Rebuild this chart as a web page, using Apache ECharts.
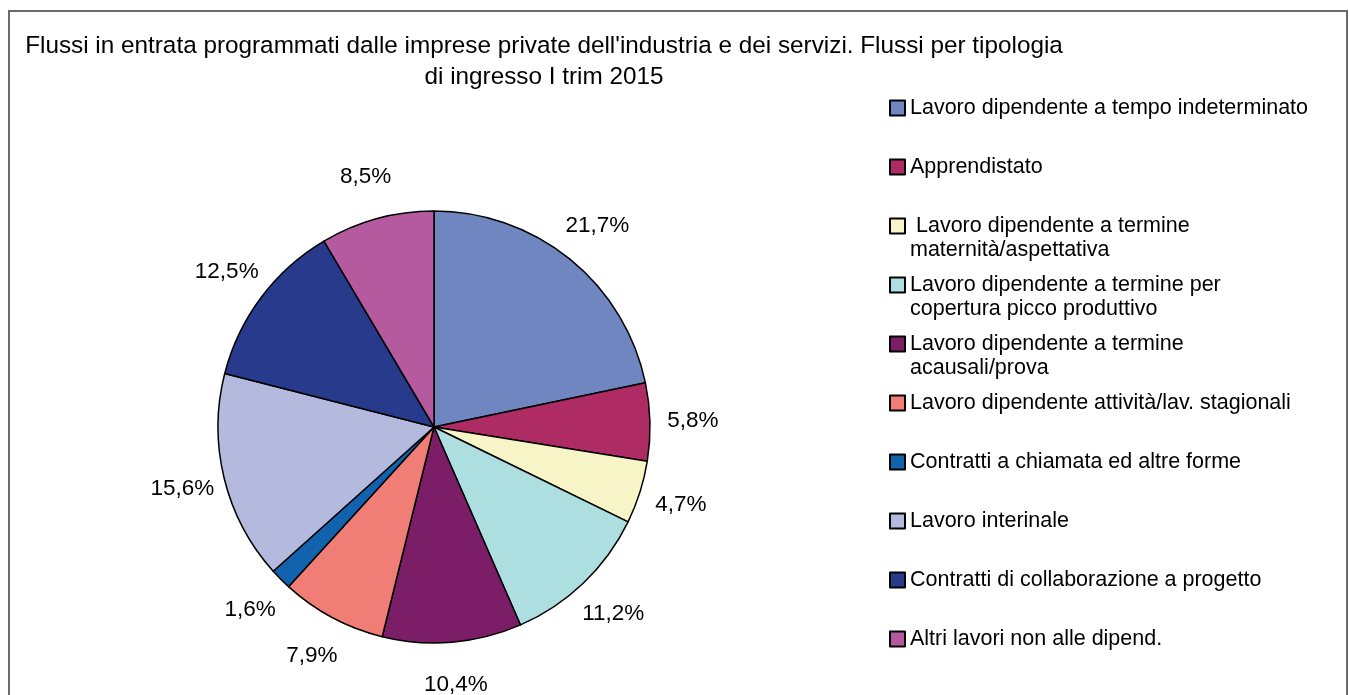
<!DOCTYPE html>
<html>
<head>
<meta charset="utf-8">
<script src="https://cdn.jsdelivr.net/npm/echarts@6/dist/echarts.min.js"></script>
<style>
html,body{margin:0;padding:0;background:#fff;}
#chart{width:1349px;height:695px;}
</style>
</head>
<body>
<div id="chart"></div>
<script>
const titleLines = [
  "Flussi in entrata programmati dalle imprese private dell'industria e dei servizi. Flussi per tipologia",
  "di ingresso I trim 2015"
];
const categories = [
  "Lavoro dipendente a tempo indeterminato",
  "Apprendistato",
  " Lavoro dipendente a termine maternità/aspettativa",
  "Lavoro dipendente a termine per copertura picco produttivo",
  "Lavoro dipendente a termine acausali/prova",
  "Lavoro dipendente attività/lav. stagionali",
  "Contratti a chiamata ed altre forme",
  "Lavoro interinale",
  "Contratti di collaborazione a progetto",
  "Altri lavori non alle dipend."
];
const legendLabels = [
  "Lavoro dipendente a tempo indeterminato",
  "Apprendistato",
  " Lavoro dipendente a termine\nmaternità/aspettativa",
  "Lavoro dipendente a termine per\ncopertura picco produttivo",
  "Lavoro dipendente a termine\nacausali/prova",
  "Lavoro dipendente attività/lav. stagionali",
  "Contratti a chiamata ed altre forme",
  "Lavoro interinale",
  "Contratti di collaborazione a progetto",
  "Altri lavori non alle dipend."
];
const shares = [21.7, 5.8, 4.7, 11.2, 10.4, 7.9, 1.6, 15.6, 12.5, 8.5];
const colors = ["#6F86C1", "#AE2B64", "#F7F5C8", "#AEDFE0", "#7B1E67",
                "#F07E77", "#1262AE", "#B4BADD", "#283A8B", "#B65AA0"];

const FONT = "'Liberation Sans', Arial, sans-serif";
const fmt = v => v.toFixed(1).replace('.', ',') + '%';

const mainData = categories.map((n, i) => ({
  name: n, value: shares[i], itemStyle: { color: colors[i] }
}));
const labelData = categories.map((n, i) => ({ name: n, value: shares[i] }));

// every legend entry gets 3 lines: an empty one, the first text line, the second (maybe blank)
const legendText = {};
categories.forEach((n, i) => {
  const t = legendLabels[i];
  legendText[n] = '\n' + (t.indexOf('\n') >= 0 ? t : t + '\n ');
});

const chart = echarts.init(document.getElementById('chart'), null, { renderer: 'canvas' });
chart.setOption({
  backgroundColor: '#ffffff',
  animation: false,
  title: {
    text: titleLines.join('\n'),
    left: 544,
    top: 31,
    textAlign: 'center',
    padding: 0,
    textStyle: {
      fontFamily: FONT, fontSize: 24.3, fontWeight: 'normal',
      color: '#000', lineHeight: 31
    }
  },
  graphic: [{
    type: 'rect',
    shape: { x: 9, y: 11, width: 1338, height: 720 },
    style: { fill: 'none', stroke: '#6b6b6b', lineWidth: 2 },
    silent: true, z: 0
  }],
  legend: {
    orient: 'vertical',
    left: 889,
    top: 72,
    padding: 0,
    itemGap: -13,
    itemWidth: 15,
    itemHeight: 15,
    icon: 'rect',
    selectedMode: false,
    data: categories,
    formatter: name => legendText[name],
    textStyle: {
      fontFamily: FONT, fontSize: 21.5, color: '#000',
      lineHeight: 24
    }
  },
  series: [
    {
      type: 'pie',
      center: [434, 427],
      radius: 216,
      startAngle: 90,
      clockwise: true,
      avoidLabelOverlap: false,
      label: { show: false },
      labelLine: { show: false },
      itemStyle: { borderColor: '#000', borderWidth: 1.5 },
      emphasis: { disabled: true },
      data: mainData,
      z: 2
    },
    {
      type: 'pie',
      center: [434, 427],
      radius: [216, 296],
      startAngle: 90,
      clockwise: true,
      silent: true,
      avoidLabelOverlap: false,
      itemStyle: { color: 'rgba(0,0,0,0)', borderWidth: 0 },
      emphasis: { disabled: true },
      labelLine: { show: false },
      label: {
        show: true,
        position: 'inside',
        formatter: p => fmt(p.value),
        fontFamily: FONT, fontSize: 22.5, color: '#000'
      },
      data: labelData,
      z: 1
    }
  ]
});
</script>
</body>
</html>
